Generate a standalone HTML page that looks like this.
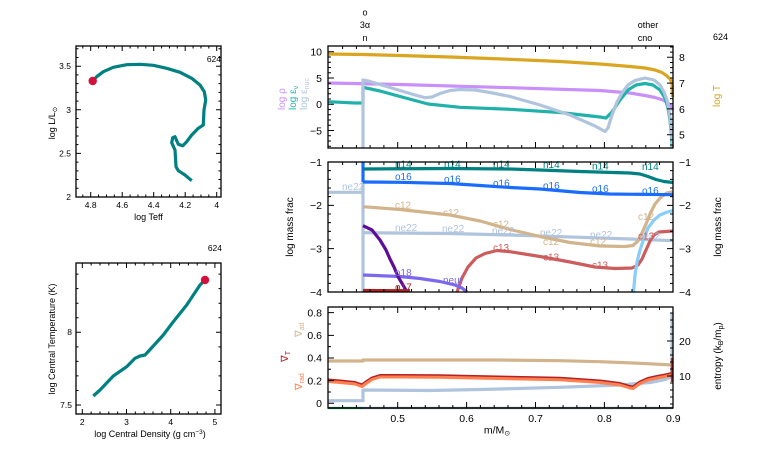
<!DOCTYPE html>
<html><head><meta charset="utf-8"><style>
html,body{margin:0;padding:0;background:#fff;}
svg{display:block;font-family:"Liberation Sans",sans-serif;}
</style></head><body>
<svg width="766" height="460" viewBox="0 0 766 460" xmlns="http://www.w3.org/2000/svg">
<rect width="766" height="460" fill="#fff"/>
<defs>
<g id="xb" stroke="#000" stroke-width="1" fill="none">
<path d="M342.6 0v-3M356.4 0v-3M370.1 0v-3M383.9 0v-3M411.5 0v-3M425.3 0v-3M439 0v-3M452.8 0v-3M480.4 0v-3M494.2 0v-3M508 0v-3M521.7 0v-3M549.3 0v-3M563.1 0v-3M576.9 0v-3M590.6 0v-3M618.2 0v-3M632 0v-3M645.8 0v-3M659.5 0v-3"/>
<path d="M397.7 0v-6M466.6 0v-6M535.5 0v-6M604.4 0v-6"/>
</g>
<g id="y2" stroke="#000" stroke-width="1" fill="none">
<path d="M0 170.67h3M0 179.33h3M0 188h3M0 196.67h3M0 214h3M0 222.67h3M0 231.33h3M0 240h3M0 257.33h3M0 266h3M0 274.67h3M0 283.33h3"/>
<path d="M0 205.33h6M0 248.67h6"/>
</g>
<g id="l1x" stroke="#000" stroke-width="1" fill="none">
<path d="M82.8 0v-2.5M98.6 0v-2.5M106.45 0v-2.5M114.3 0v-2.5M130.1 0v-2.5M137.95 0v-2.5M145.8 0v-2.5M161.6 0v-2.5M169.45 0v-2.5M177.3 0v-2.5M193.1 0v-2.5M200.95 0v-2.5M208.8 0v-2.5"/>
<path d="M90.7 0v-5M122.2 0v-5M153.7 0v-5M185.2 0v-5M216.7 0v-5"/>
</g>
<g id="l1y" stroke="#000" stroke-width="1" fill="none">
<path d="M0 188.28h2.5M0 179.56h2.5M0 170.84h2.5M0 162.12h2.5M0 144.68h2.5M0 135.96h2.5M0 127.24h2.5M0 118.52h2.5M0 101.08h2.5M0 92.36h2.5M0 83.64h2.5M0 74.92h2.5M0 57.48h2.5M0 48.76h2.5"/>
<path d="M0 153.4h5M0 109.8h5M0 66.2h5"/>
</g>
<g id="l2x" stroke="#000" stroke-width="1" fill="none">
<path d="M91.14 0v-2.5M99.98 0v-2.5M108.82 0v-2.5M117.66 0v-2.5M135.34 0v-2.5M144.18 0v-2.5M153.02 0v-2.5M161.86 0v-2.5M179.54 0v-2.5M188.38 0v-2.5M197.22 0v-2.5M206.06 0v-2.5"/>
<path d="M82.3 0v-5M126.5 0v-5M170.7 0v-5M214.9 0v-5"/>
</g>
<g id="l2y" stroke="#000" stroke-width="1" fill="none">
<path d="M0 390.46h2.5M0 375.92h2.5M0 361.38h2.5M0 346.84h2.5M0 317.76h2.5M0 303.22h2.5M0 288.68h2.5M0 274.14h2.5"/>
<path d="M0 405h5M0 332.3h5"/>
</g>
</defs>

<!-- ============ LEFT TOP: HR ============ -->
<polyline fill="none" stroke="#008080" stroke-width="3.2" stroke-linejoin="round" points="92.7,81 96.7,76.7 103.3,71.7 113.3,67.3 126.7,64.7 140,64.3 153.3,65.3 166.7,68.3 180,72.3 191.7,78.3 200,85 204.3,91.7 205.7,100 204,110 203.3,125 198.3,128.3 191.7,135 186.7,141.7 182.7,145.7 178.3,144.3 175,136.7 172.7,137.7 171.7,142.7 175,150 176,166.7 178.3,170.7 185,175 191.7,180.7"/>
<circle cx="92.7" cy="81" r="4.2" fill="#D2123C"/>
<rect x="76" y="46" width="145" height="151" fill="none" stroke="#000" stroke-width="1.3"/>
<use href="#l1x" transform="translate(0,197)"/>
<use href="#l1x" transform="translate(0,46) scale(1,-1)"/>
<use href="#l1y" transform="translate(76,0)"/>
<use href="#l1y" transform="translate(221,0) scale(-1,1)"/>
<g font-size="8.5" fill="#000" text-anchor="middle">
<text x="90.7" y="208">4.8</text><text x="122.2" y="208">4.6</text><text x="153.7" y="208">4.4</text><text x="185.2" y="208">4.2</text><text x="216.7" y="208">4</text>
</g>
<g font-size="8.5" fill="#000" text-anchor="end">
<text x="71" y="69">3.5</text><text x="71" y="113">3</text><text x="71" y="156.5">2.5</text><text x="71" y="200">2</text>
</g>
<text x="148.5" y="220" font-size="9" text-anchor="middle">log Teff</text>
<text transform="translate(55,123) rotate(-90)" font-size="9" text-anchor="middle">log L/L<tspan font-size="6.5" dy="2">⊙</tspan></text>
<text x="221" y="62" font-size="8.5" text-anchor="end">624</text>

<!-- ============ LEFT BOTTOM: Tc-rhoc ============ -->
<polyline fill="none" stroke="#008080" stroke-width="3.2" stroke-linejoin="round" points="93.3,396 100,390 113.3,376 126.7,366.7 135,358.3 140,356 145,355 153.3,346 163.3,335 173.3,321.7 186.7,305 200,285 205,280"/>
<circle cx="205" cy="280" r="4.2" fill="#D2123C"/>
<rect x="76" y="263" width="145" height="151" fill="none" stroke="#000" stroke-width="1.3"/>
<use href="#l2x" transform="translate(0,414)"/>
<use href="#l2x" transform="translate(0,263) scale(1,-1)"/>
<use href="#l2y" transform="translate(76,0)"/>
<use href="#l2y" transform="translate(221,0) scale(-1,1)"/>
<g font-size="8.5" fill="#000" text-anchor="middle">
<text x="82.3" y="425">2</text><text x="126.5" y="425">3</text><text x="170.7" y="425">4</text><text x="214.9" y="425">5</text>
</g>
<g font-size="8.5" fill="#000" text-anchor="end">
<text x="72" y="335">8</text><text x="72" y="408">7.5</text>
</g>
<text x="150" y="437" font-size="9" text-anchor="middle">log Central Density (g cm<tspan font-size="6.5" dy="-3">−3</tspan><tspan dy="3">)</tspan></text>
<text transform="translate(55,339) rotate(-90)" font-size="9" text-anchor="middle">log Central Temperature (K)</text>
<text x="222" y="251" font-size="8.5" text-anchor="end">624</text>

<!-- ============ TOP LABELS ============ -->
<g font-size="9" fill="#000" text-anchor="middle">
<text x="365" y="15.5">o</text><text x="365" y="28">3α</text><text x="365" y="41">n</text>
<text x="648" y="28">other</text><text x="645" y="41">cno</text>
</g>
<text x="728" y="40" font-size="9" text-anchor="end">624</text>

<!-- ============ PANEL 1 ============ -->
<g fill="none" stroke-linejoin="round" stroke-width="3.2">
<polyline stroke="#DAA520" points="328,54 363,54.5 400,55.5 450,57 510,59.3 560,61.5 600,64 630,66.5 645,68 655,70 662,72.5 667,76 670,79 672,83 672.5,97"/>
<polyline stroke="#C990FA" points="328,83 400,84.5 510,87.7 600,90.5 630,93 645,95.5 655,97.5 663,100 668,103 671,106 673,110"/>
<polyline stroke="#20B2AA" points="328,101.7 355,103 363,103 363,87.3 380,91 400,96.5 428,104 460,107.3 510,109.3 560,112.5 600,117 606,118 612,112 620,100 628,90 636,85 645,83.5 653,85 660,90 665,98 668,108 670,120 671.5,135 672,148"/>
<polyline stroke="#B0C4DE" points="363,148 363,80 370,81.5 385,86 400,90.5 415,95 425,97.7 432,97 440,93.5 450,90.5 460,89.5 475,90 490,92.5 510,96.5 540,105 570,115 595,126 605,131.5 608,128 612,115 617,102 622,93 628,85 635,80.5 645,78 654,80 660,85 664,92 667,100 669,110 671,125 672,140 672.5,148"/>
</g>
<rect x="328" y="46" width="345" height="102" fill="none" stroke="#000" stroke-width="1.3"/>
<use href="#xb" transform="translate(0,148)"/>
<use href="#xb" transform="translate(0,46) scale(1,-1)"/>
<g stroke="#000" stroke-width="1" fill="none">
<path d="M328 56.95h3M328 62.2h3M328 67.45h3M328 72.7h3M328 83.2h3M328 88.45h3M328 93.7h3M328 98.95h3M328 109.45h3M328 114.7h3M328 119.95h3M328 125.2h3M328 135.7h3M328 140.95h3M328 146.2h3"/>
<path d="M328 51.7h6M328 77.95h6M328 104.2h6M328 130.45h6"/>
<path d="M673 47h-3M673 52.14h-3M673 62.46h-3M673 67.62h-3M673 72.78h-3M673 77.94h-3M673 88.26h-3M673 93.42h-3M673 98.58h-3M673 103.74h-3M673 114.06h-3M673 119.22h-3M673 124.38h-3M673 129.54h-3M673 139.86h-3M673 145.02h-3"/>
<path d="M673 57.3h-6M673 83.1h-6M673 108.9h-6M673 134.7h-6"/>
</g>
<g font-size="10.5" fill="#000" text-anchor="end">
<text x="322" y="55.5">10</text><text x="322" y="82">5</text><text x="322" y="108">0</text><text x="322" y="134.5">−5</text>
</g>
<g font-size="10.5" fill="#000" text-anchor="start">
<text x="679" y="61">8</text><text x="679" y="87">7</text><text x="679" y="113">6</text><text x="679" y="138.5">5</text>
</g>
<text transform="translate(285,110) rotate(-90)" font-size="10" fill="#C990FA">log ρ</text>
<text transform="translate(296,110) rotate(-90)" font-size="10" fill="#20B2AA">log ε<tspan font-size="7" dy="2">ν</tspan></text>
<text transform="translate(307,110) rotate(-90)" font-size="10" fill="#B0C4DE">log ε<tspan font-size="7" dy="2">nuc</tspan></text>
<text transform="translate(720,96) rotate(-90)" font-size="10" fill="#DAA520" text-anchor="middle">log T</text>

<!-- ============ PANEL 2 ============ -->
<g fill="none" stroke-linejoin="round" stroke-width="3.2">
<polyline stroke="#B0C4DE" points="328,192.3 363,192.3"/>
<polyline stroke="#B0C4DE" points="363,292 363,181"/>
<polyline stroke="#1A6CFF" points="363,162 363,182"/>
<polyline stroke="#B0C4DE" points="363,232.7 450,233.5 510,235 580,237.3 630,239 673,240.7"/>
<polyline stroke="#D2B48C" points="363,206.7 400,209.5 450,215 480,221 510,229.5 540,236.5 570,242.5 600,246 625,246.5 633,245.5 638,241 642,233 646,224 650,214 655,204 661,197 667,193 673,191.7"/>
<polyline stroke="#CD5C5C" points="457,292 462,278 468,267 476,258 485,253.5 497,250.5 510,251.7 540,256.5 570,262 595,267 615,268.5 632,268 638,265 642,259 646,250 650,241 654,235 659,232 673,231"/>
<polyline stroke="#87CEFA" points="633.5,292 635,275 637,262 640,250 644,238 648,228 654,220 660,215 666,212.5 673,210.5"/>
<polyline stroke="#008080" points="363,169 450,168.5 510,169 540,170 580,171.5 630,173 640,174 648,176.5 656,179.5 664,181.5 673,182.5"/>
<polyline stroke="#1A6CFF" points="363,182 400,182.3 450,183.5 480,185.5 510,187.5 540,189 580,192.5 610,194 673,194.7"/>
<polyline stroke="#7B68EE" points="363,275 400,276.5 420,278.5 440,281.5 455,285 462,288 467,292"/>
<polyline stroke="#5E0C9A" points="363,225.7 372,230 380,240 386,250 390,259 394,267 398,276.7 403,285 407,292"/>
<polyline stroke="#B22222" points="363,290.5 410,290.7"/>
</g>
<g font-size="10">
<g fill="#008080"><text x="395" y="167.5">n14</text><text x="444" y="167.5">n14</text><text x="493" y="167.5">n14</text><text x="543" y="168">n14</text><text x="592" y="169.5">n14</text><text x="642" y="170">n14</text></g>
<g fill="#1A6CFF"><text x="395" y="180">o16</text><text x="444" y="182.5">o16</text><text x="493" y="186.5">o16</text><text x="543" y="189">o16</text><text x="592" y="192">o16</text><text x="642" y="194">o16</text></g>
<g fill="#B0C4DE"><text x="342" y="190">ne22</text><text x="395" y="231">ne22</text><text x="442" y="232">ne22</text><text x="492" y="234">ne22</text><text x="540" y="236">ne22</text><text x="590" y="238">ne22</text><text x="638" y="239.5">ne22</text></g>
<g fill="#D2B48C"><text x="395" y="208.5">c12</text><text x="443" y="216">c12</text><text x="493" y="227.5">c12</text><text x="543" y="245">c12</text><text x="590" y="245">c12</text><text x="638" y="220">c12</text></g>
<g fill="#CD5C5C"><text x="493" y="251">c13</text><text x="543" y="260.5">c13</text><text x="592" y="268.5">c13</text><text x="638" y="239.5">c13</text></g>
<text x="395" y="276" fill="#7B68EE">o18</text>
<text x="443" y="283.5" fill="#7B68EE">neut</text>
<text x="395" y="290.5" fill="#B22222">o17</text>
</g>
<rect x="328" y="162" width="345" height="130" fill="none" stroke="#000" stroke-width="1.3"/>
<use href="#xb" transform="translate(0,292)"/>
<use href="#xb" transform="translate(0,162) scale(1,-1)"/>
<use href="#y2" transform="translate(328,0)"/>
<use href="#y2" transform="translate(673,0) scale(-1,1)"/>
<g font-size="10.5" fill="#000" text-anchor="end">
<text x="322" y="166">−1</text><text x="322" y="209">−2</text><text x="322" y="252.5">−3</text><text x="322" y="296">−4</text>
</g>
<g font-size="10.5" fill="#000" text-anchor="start">
<text x="679" y="166">−1</text><text x="679" y="209">−2</text><text x="679" y="252.5">−3</text><text x="679" y="296">−4</text>
</g>
<text transform="translate(293,227) rotate(-90)" font-size="10" text-anchor="middle">log mass frac</text>
<text transform="translate(721,227) rotate(-90)" font-size="10" text-anchor="middle">log mass frac</text>

<!-- ============ PANEL 3 ============ -->
<g fill="none" stroke-linejoin="round">
<polyline stroke="#D2B48C" stroke-width="3.2" points="328,361 363,361 363,360 500,360 560,360.7 600,361.7 640,363.3 673,365"/>
<polyline stroke="#B0C4DE" stroke-width="3.2" points="328,400.7 363,400.7 363,390 430,390.5 480,389.5 500,389 560,387.3 620,385 650,382.5 665,379.5 671,377 672,377 672,313"/>
<polyline stroke="#B22222" stroke-width="3" points="328,380 340,381 355,382.5 362,385 366,382 372,378 380,375.5 400,375.5 440,375.8 510,377.3 560,378.3 600,381 620,383.5 630,386.5 633,387 640,382 648,378.5 657,376.5 665,375 672,373.5"/>
<polyline stroke="#FF7F50" stroke-width="3" points="328,381.5 340,382.5 355,384 362,386.5 366,383.5 372,379.5 380,377 400,377 440,377.3 510,378.8 560,379.8 600,382.5 620,385 630,388 633,388.5 640,383.5 648,380 657,378 665,376.5 672,375"/>
<polyline stroke="#C62828" stroke-width="2.5" points="672,358 672,382"/>
<polyline stroke="#708090" stroke-width="2.2" points="363,408 673,408"/>
<polyline stroke="#2E8B57" stroke-width="2.2" points="328,408 363,408"/>
</g>
<rect x="328" y="307" width="345" height="101" fill="none" stroke="#000" stroke-width="1.3"/>
<use href="#xb" transform="translate(0,408)"/>
<use href="#xb" transform="translate(0,307) scale(1,-1)"/>
<g stroke="#000" stroke-width="1" fill="none">
<path d="M328 323.99h3M328 346.65h3M328 369.31h3M328 391.97h3"/>
<path d="M328 312.66h6M328 335.32h6M328 357.98h6M328 380.64h6M328 403.3h6"/>
<path d="M673 404h-3M673 397h-3M673 390h-3M673 383h-3M673 369h-3M673 362h-3M673 355h-3M673 348h-3M673 334h-3M673 327h-3M673 320h-3M673 313h-3"/>
<path d="M673 376h-6M673 341h-6"/>
</g>
<g font-size="10.5" fill="#000" text-anchor="end">
<text x="322" y="316.5">0.8</text><text x="322" y="339">0.6</text><text x="322" y="361.5">0.4</text><text x="322" y="384.5">0.2</text><text x="322" y="407">0</text>
</g>
<g font-size="10.5" fill="#000" text-anchor="start">
<text x="679" y="345">20</text><text x="679" y="380">10</text>
</g>
<g font-size="10.5" fill="#000" text-anchor="middle">
<text x="397.7" y="422">0.5</text><text x="466.6" y="422">0.6</text><text x="535.5" y="422">0.7</text><text x="604.4" y="422">0.8</text><text x="673.3" y="422">0.9</text>
</g>
<text x="497" y="433.5" font-size="10.5" text-anchor="middle">m/M<tspan font-size="7" dy="2">⊙</tspan></text>
<text transform="translate(302,337) rotate(-90)" font-size="10" fill="#D2B48C">∇<tspan font-size="7" dy="2">ad</tspan></text>
<text transform="translate(288,362) rotate(-90)" font-size="10" fill="#B22222">∇<tspan font-size="7" dy="2">T</tspan></text>
<text transform="translate(302,390) rotate(-90)" font-size="10" fill="#FF7F50">∇<tspan font-size="7" dy="2">rad</tspan></text>
<text transform="translate(721,356) rotate(-90)" font-size="10" text-anchor="middle">entropy (k<tspan font-size="7" dy="2">B</tspan><tspan dy="-2">/m</tspan><tspan font-size="7" dy="2">p</tspan><tspan dy="-2">)</tspan></text>
</svg>
</body></html>
